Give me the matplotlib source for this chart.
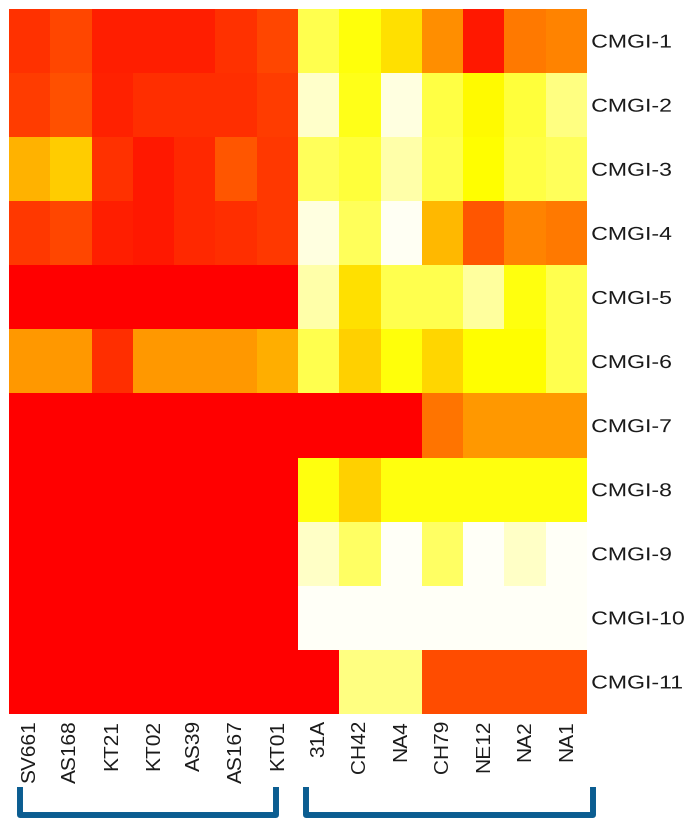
import numpy as np
import matplotlib.pyplot as plt
from matplotlib import patheffects
from matplotlib.colors import LinearSegmentedColormap
from matplotlib.transforms import Affine2D, blended_transform_factory

strains = ["SV661", "AS168", "KT21", "KT02", "AS39", "AS167", "KT01",
           "31A", "CH42", "NA4", "CH79", "NE12", "NA2", "NA1"]
islands = [f"CMGI-{i}" for i in range(1, 12)]

# relative level per island (rows) and strain (columns), 0 = none, 100 = max
cmgi_1 = [90, 86, 94, 94, 94, 90, 86, 34, 48, 56, 72, 95, 76, 74]
cmgi_2 = [88, 84, 93, 91, 91, 91, 88, 9, 45, 5, 36, 51, 38, 24]
cmgi_3 = [65, 60, 90, 95, 92, 83, 89, 32, 38, 16, 34, 50, 36, 32]
cmgi_4 = [89, 86, 94, 95, 92, 91, 89, 5, 32, 1, 64, 83, 74, 76]
cmgi_5 = [100, 100, 100, 100, 100, 100, 100, 16, 56, 34, 34, 18, 47, 34]
cmgi_6 = [70, 70, 91, 70, 70, 70, 66, 34, 59, 48, 58, 50, 50, 34]
cmgi_7 = [100, 100, 100, 100, 100, 100, 100, 100, 100, 100, 77, 70, 70, 70]
cmgi_8 = [100, 100, 100, 100, 100, 100, 100, 47, 59, 47, 47, 47, 47, 47]
cmgi_9 = [100, 100, 100, 100, 100, 100, 100, 10, 30, 0, 30, 0, 10, 0]
cmgi_10 = [100, 100, 100, 100, 100, 100, 100, 0, 0, 0, 0, 0, 0, 0]
cmgi_11 = [100, 100, 100, 100, 100, 100, 100, 100, 24, 24, 85, 85, 85, 85]

# column groups marked by brackets under the labels (first, last column)
groups = [(0, 6), (7, 13)]


class Stretch(patheffects.AbstractPathEffect):
    """Widen text horizontally around its own origin."""

    def __init__(self, sx):
        super().__init__()
        self.sx = sx

    def draw_path(self, renderer, gc, tpath, affine, rgbFace=None):
        renderer.draw_path(gc, tpath, Affine2D().scale(self.sx, 1) + affine, rgbFace)


data = np.array([cmgi_1, cmgi_2, cmgi_3, cmgi_4, cmgi_5, cmgi_6,
                 cmgi_7, cmgi_8, cmgi_9, cmgi_10, cmgi_11])

cmap = LinearSegmentedColormap.from_list(
    "wyr", [(0.0, (1, 1, 0.97)), (0.5, (1, 1, 0)), (1.0, (1, 0, 0))])

fig = plt.figure(figsize=(6.87, 8.19), dpi=100)
ax = fig.add_axes([9 / 687, 105 / 819, 578 / 687, 705 / 819])
ax.imshow(data, cmap=cmap, vmin=0, vmax=100, aspect="auto", interpolation="nearest")

for s in ax.spines.values():
    s.set_visible(False)

ax.set_xticks(range(len(strains)))
ax.set_xticklabels(strains, rotation=90, family="Liberation Sans",
                   fontsize=15, color="#1a1a1a")
ax.set_yticks(range(len(islands)))
ax.set_yticklabels(islands, family="Liberation Sans", fontsize=13.4, color="#1a1a1a")
ax.yaxis.tick_right()
ax.tick_params(axis="x", length=0, pad=4.3)
ax.tick_params(axis="y", length=0, pad=3)
for lab in ax.get_yticklabels():
    lab.set_path_effects([Stretch(1.24)])

# brackets below the strain names
trans = blended_transform_factory(ax.transData, ax.transAxes)
insets = [(0.26, 0.53), (0.19, -0.14)]
for (a, b), (li, ri) in zip(groups, insets):
    x0 = a - 0.5 + li
    x1 = b + 0.5 - ri
    ax.plot([x0, x0, x1, x1], [-0.104, -0.143, -0.143, -0.104], transform=trans,
            color="#0b5d91", lw=4.3, clip_on=False, solid_joinstyle="round",
            solid_capstyle="butt")

ax.set_xlim(-0.5, len(strains) - 0.5)
ax.set_ylim(len(islands) - 0.5, -0.5)

fig.savefig("out.png", dpi=100)
